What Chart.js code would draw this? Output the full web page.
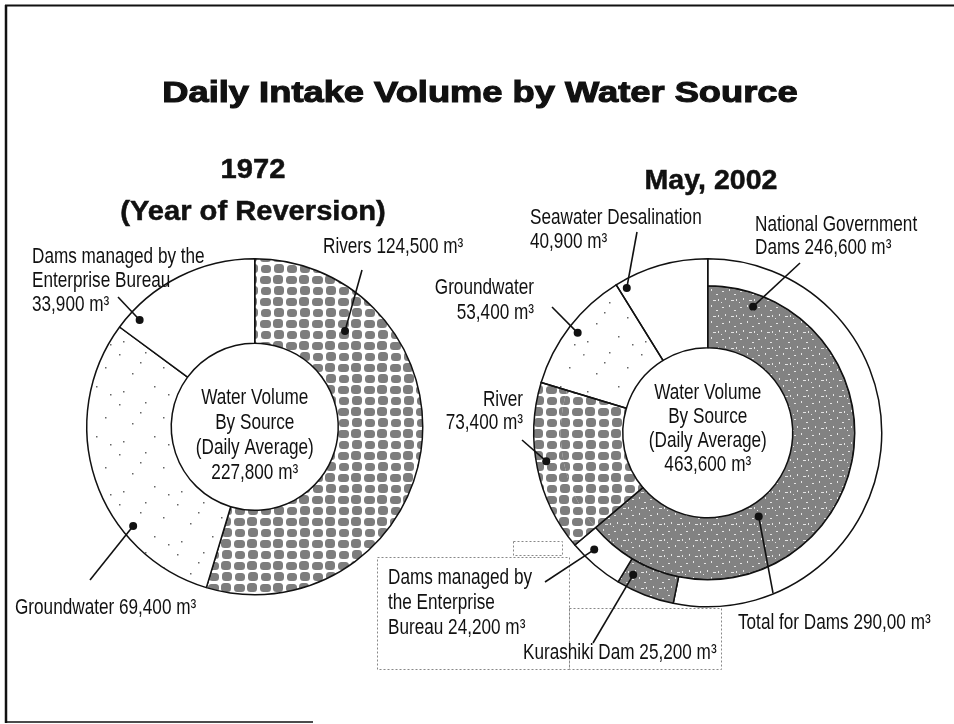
<!DOCTYPE html>
<html>
<head>
<meta charset="utf-8">
<script src="https://cdn.jsdelivr.net/npm/chart.js@4.4.0/dist/chart.umd.min.js"></script>
<style>
  html, body { margin: 0; padding: 0; background: #fff; }
  #page { position: relative; width: 954px; height: 724px; }
  #page canvas { position: absolute; left: 0; top: 0; }
</style>
</head>
<body>
<div id="page">
  <canvas id="c1972" width="954" height="724"></canvas>
  <canvas id="c2002" width="954" height="724"></canvas>
</div>
<script>
// values (m3 per day)
const mainTitle = "Daily Intake Volume by Water Source";

const labels1972 = ["Rivers", "Groundwater", "Dams managed by the Enterprise Bureau"];
const values1972 = [124500, 69400, 33900];
const centre1972 = ["Water Volume", "By Source", "(Daily Average)", "227,800 m³"];

// outer ring of 2002: every source
const labels2002 = ["National Government Dams", "Kurashiki Dam", "Dams managed by the Enterprise Bureau",
                    "River", "Groundwater", "Seawater Desalination"];
const values2002 = [246600, 25200, 24200, 73400, 53400, 40900];
// inner ring of 2002: dams lumped together
const labelsDams2002 = ["Total for Dams", "River", "Groundwater", "Seawater Desalination"];
const valuesDams2002 = [296000, 73400, 53400, 40900];
const centre2002 = ["Water Volume", "By Source", "(Daily Average)", "463,600 m³"];

const INK = "#111";
const FONT = '"Liberation Sans", Arial, sans-serif';

function makePattern(w, h, draw) {
  const c = document.createElement("canvas");
  c.width = w; c.height = h;
  const g = c.getContext("2d");
  draw(g, w, h);
  return g.createPattern(c, "repeat");
}

// grey blobs (rivers)
const blobFill = makePattern(26, 22, (g, w, h) => {
  g.fillStyle = "#fff"; g.fillRect(0, 0, w, h);
  g.fillStyle = "#7d7d7d";
  [[1, 1, 10, 8], [14, 0, 10, 9], [0, 12, 11, 8], [13, 11, 10, 9]].forEach(([x, y, bw, bh]) => {
    g.beginPath();
    if (g.roundRect) g.roundRect(x, y, bw, bh, 3.5);
    else g.rect(x, y, bw, bh);
    g.fill();
  });
});

// sparse dots (groundwater)
const dotFill = makePattern(58, 50, (g, w, h) => {
  g.fillStyle = "#fff"; g.fillRect(0, 0, w, h);
  g.fillStyle = "#666";
  [[3, 4], [29, 2], [47, 17], [16, 23], [38, 36], [7, 41], [24, 12], [52, 44]]
    .forEach(([x, y]) => g.fillRect(x, y, 1.5, 1.5));
});

// speckled dark grey (dams)
const damFill = makePattern(18, 16, (g, w, h) => {
  g.fillStyle = "#828282"; g.fillRect(0, 0, w, h);
  g.fillStyle = "#e6e6e6";
  [[2, 3, 2, 1], [9, 1, 1, 2], [14, 6, 2, 1], [5, 10, 1, 2], [11, 12, 3, 1], [1, 14, 1, 1], [16, 11, 1, 2]]
    .forEach(([x, y, sw, sh]) => g.fillRect(x, y, sw, sh));
});

function drawText(ctx, s, x, y, o) {
  ctx.save();
  ctx.font = (o.weight || "normal") + " " + o.size + "px " + FONT;
  ctx.fillStyle = INK;
  ctx.textAlign = o.align || "left";
  ctx.textBaseline = "middle";
  ctx.translate(x, y);
  ctx.scale(o.sx || 1, 1);
  ctx.fillText(s, 0, 0);
  if (o.stroke) { ctx.lineWidth = o.stroke; ctx.strokeStyle = INK; ctx.strokeText(s, 0, 0); }
  ctx.restore();
}

const label = { size: 22, sx: 0.78 };

const decorPlugin = {
  id: "decor",
  beforeDatasetsDraw(chart, args, opts) {
    const ctx = chart.ctx;
    ctx.save();
    ctx.strokeStyle = INK;
    (opts.rules || []).forEach(r => {
      ctx.lineWidth = r[4];
      ctx.beginPath(); ctx.moveTo(r[0], r[1]); ctx.lineTo(r[2], r[3]); ctx.stroke();
    });
    ctx.strokeStyle = "#888";
    ctx.lineWidth = 1;
    ctx.setLineDash([2, 2]);
    (opts.boxes || []).forEach(b => ctx.strokeRect(b[0] + 0.5, b[1] + 0.5, b[2] - b[0], b[3] - b[1]));
    ctx.restore();
  },
  afterDatasetsDraw(chart, args, opts) {
    const ctx = chart.ctx;
    // outlines of the pieces that span both rings
    (opts.joined || []).forEach(([i, j]) => {
      const a = chart.getDatasetMeta(1).data[i];
      const b = chart.getDatasetMeta(0).data[j];
      ctx.save();
      ctx.strokeStyle = INK; ctx.lineWidth = 1.5;
      ctx.beginPath();
      ctx.arc(a.x, a.y, b.outerRadius, a.startAngle, a.endAngle);
      ctx.arc(a.x, a.y, a.innerRadius, a.endAngle, a.startAngle, true);
      ctx.closePath();
      ctx.stroke();
      ctx.restore();
    });
    // centre text
    const arc0 = chart.getDatasetMeta(0).data[0];
    const c = opts.centre;
    c.lines.forEach((s, k) => drawText(ctx, s, arc0.x, arc0.y + c.dy + k * c.lh, { ...label, align: "center" }));
    // headings
    (opts.heads || []).forEach(h => drawText(ctx, h.text, h.x, h.y, h));
    // callouts
    (opts.callouts || []).forEach(co => {
      const arc = chart.getDatasetMeta(co.ds).data[co.idx];
      const ang = arc.startAngle + co.t * (arc.endAngle - arc.startAngle);
      const rad = arc.innerRadius + co.r * (arc.outerRadius - arc.innerRadius);
      const px = arc.x + rad * Math.cos(ang), py = arc.y + rad * Math.sin(ang);
      ctx.save();
      ctx.strokeStyle = INK; ctx.fillStyle = INK; ctx.lineWidth = 1.6;
      ctx.beginPath(); ctx.moveTo(co.from[0], co.from[1]); ctx.lineTo(px, py); ctx.stroke();
      ctx.beginPath(); ctx.arc(px, py, 4, 0, Math.PI * 2); ctx.fill();
      ctx.restore();
      co.lines.forEach((s, k) => drawText(ctx, s, co.x, co.y + k * co.lh, { ...label, align: co.align || "left" }));
    });
  }
};

const common = {
  responsive: false,
  devicePixelRatio: 1,
  animation: false,
  events: [],
  rotation: 0,
  plugins: { legend: { display: false }, tooltip: { enabled: false }, title: { display: false } }
};

new Chart(document.getElementById("c1972"), {
  type: "doughnut",
  data: {
    labels: labels1972,
    datasets: [{
      data: values1972,
      backgroundColor: [blobFill, dotFill, "#fff"],
      borderColor: INK,
      borderWidth: 1.5
    }]
  },
  options: {
    ...common,
    cutout: "49.7%",
    layout: { padding: { left: 86, right: 530.5, top: 258, bottom: 128.5 } },
    plugins: {
      ...common.plugins,
      decor: {
        rules: [[6, 5, 6, 723, 2.5], [5, 5.5, 954, 5.5, 2], [5, 722, 313, 722, 1.5]],
        centre: { lines: centre1972, dy: -29, lh: 25 },
        heads: [
          { text: mainTitle, x: 480, y: 94, size: 30, weight: "bold", sx: 1.21, align: "center", stroke: 1.1 },
          { text: "1972", x: 253, y: 170, size: 28, weight: "bold", sx: 1.04, align: "center", stroke: 0.5 },
          { text: "(Year of Reversion)", x: 253, y: 212, size: 28, weight: "bold", sx: 1.04, align: "center", stroke: 0.5 }
        ],
        callouts: [
          { ds: 0, idx: 0, t: 0.22, r: 0.57, from: [362, 270], x: 323, y: 247, lh: 24, lines: ["Rivers 124,500 m³"] },
          { ds: 0, idx: 2, t: 0.12, r: 0.87, from: [118, 297], x: 32, y: 257, lh: 24,
            lines: ["Dams managed by the", "Enterprise Bureau", "33,900 m³"] },
          { ds: 0, idx: 1, t: 0.31, r: 0.87, from: [90, 580], x: 15, y: 608, lh: 24, lines: ["Groundwater 69,400 m³"] }
        ]
      }
    }
  },
  plugins: [decorPlugin]
});

new Chart(document.getElementById("c2002"), {
  type: "doughnut",
  data: {
    labels: labels2002,
    datasets: [{
      data: values2002,
      backgroundColor: ["#fff", damFill, "#fff", blobFill, dotFill, "#fff"],
      borderColor: INK,
      borderWidth: [1.5, 1.5, 1.5, 0, 0, 0],
      weight: 27
    }, {
      data: valuesDams2002,
      backgroundColor: [damFill, blobFill, dotFill, "#fff"],
      borderColor: INK,
      borderWidth: [1.5, 0, 0, 0],
      weight: 62
    }]
  },
  options: {
    ...common,
    cutout: "48.85%",
    layout: { padding: { left: 533, right: 71.5, top: 258, bottom: 116.5 } },
    plugins: {
      ...common.plugins,
      decor: {
        boxes: [[377, 557, 569, 669], [513, 541, 562, 555], [569, 608, 721, 669]],
        joined: [[1, 3], [2, 4], [3, 5]],
        centre: { lines: centre2002, dy: -40, lh: 24 },
        heads: [
          { text: "May, 2002", x: 711, y: 181, size: 28, weight: "bold", sx: 1.02, align: "center", stroke: 0.5 }
        ],
        callouts: [
          { ds: 0, idx: 5, t: 0.08, r: 0.7, from: [637, 232], x: 530, y: 218, lh: 24,
            lines: ["Seawater Desalination", "40,900 m³"] },
          { ds: 1, idx: 0, t: 0.086, r: 0.79, from: [800, 263], x: 755, y: 225, lh: 23,
            lines: ["National Government", "Dams 246,600 m³"] },
          { ds: 0, idx: 4, t: 0.5, r: 0.63, from: [552, 307], x: 534, y: 288, lh: 25, align: "right",
            lines: ["Groundwater", "53,400 m³"] },
          { ds: 0, idx: 3, t: 0.53, r: 0.63, from: [522, 440], x: 523, y: 400, lh: 23, align: "right",
            lines: ["River", "73,400 m³"] },
          { ds: 0, idx: 2, t: 0.7, r: 0.59, from: [545, 582], x: 388, y: 578, lh: 25,
            lines: ["Dams managed by", "the Enterprise", "Bureau 24,200 m³"] },
          { ds: 0, idx: 1, t: 0.83, r: 0.5, from: [593, 643], x: 523, y: 653, lh: 24, lines: ["Kurashiki Dam 25,200 m³"] },
          { ds: 1, idx: 0, t: 0.647, r: 0.21, from: [773, 593], x: 738, y: 623, lh: 24, lines: ["Total for Dams 290,00 m³"] }
        ]
      }
    }
  },
  plugins: [decorPlugin]
});
</script>
</body>
</html>
